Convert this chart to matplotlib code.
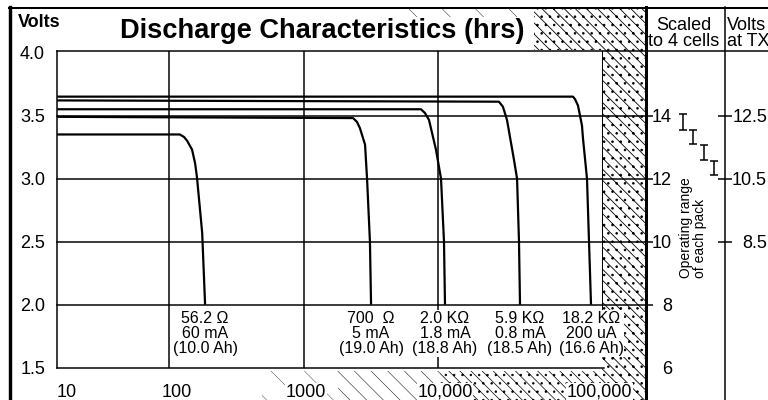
import matplotlib
matplotlib.use("Agg")
import matplotlib.pyplot as plt
from matplotlib.patches import Rectangle
from matplotlib.transforms import blended_transform_factory

plt.rcParams['font.family'] = ['Liberation Sans', 'DejaVu Sans']
plt.rcParams['hatch.linewidth'] = 0.7

# ---- discharge curves: hours (log axis) vs. cell voltage ----
hours_562 = [14.7, 120, 129, 136, 148, 156, 161, 176, 185]
volts_562 = [3.35, 3.35, 3.33, 3.30, 3.23, 3.12, 3.01, 2.57, 2.0]

hours_700 = [14.7, 2330, 2490, 2620, 2860, 2960, 3110, 3170]
volts_700 = [3.49, 3.48, 3.45, 3.40, 3.27, 3.0, 2.5, 2.0]

hours_2k0 = [14.7, 7450, 7980, 8550, 9630, 10500, 11050, 11240]
volts_2k0 = [3.55, 3.55, 3.52, 3.465, 3.23, 3.0, 2.5, 2.0]

hours_5k9 = [14.7, 28300, 30300, 32500, 36600, 38600, 39900, 40600]
volts_5k9 = [3.62, 3.61, 3.57, 3.465, 3.15, 3.0, 2.5, 2.0]

hours_18k2 = [14.7, 100500, 104100, 109500, 113400, 117300, 119300, 127800, 132300, 136900]
volts_18k2 = [3.65, 3.65, 3.63, 3.58, 3.50, 3.42, 3.32, 3.0, 2.5, 2.0]

loads = ["56.2 Ω", "700  Ω", "2.0 KΩ", "5.9 KΩ", "18.2 KΩ"]
currents = ["60 mA", "5 mA", "1.8 mA", "0.8 mA", "200 uA"]
capacity_ah = [10.0, 19.0, 18.8, 18.5, 16.6]

# ---- axes ranges and tick labels ----
hours_range = (14.66, 3.45e5)
volts_range = (1.5, 4.016)
volt_ticks = [1.5, 2.0, 2.5, 3.0, 3.5, 4.0]
volt_grid = [2.0, 2.5, 3.0, 3.5]
hour_grid = [100, 1000, 10000]
hour_labels = ["10", "100", "1000", "10,000", "100,000"]
hour_label_pos = [0.017, 0.204, 0.4235, 0.660, 0.922]   # axes fraction

# ---- 4-cell pack scale and transmitter voltage ----
cells = 4
pack_ticks = [6, 8, 10, 12, 14]
tx_ticks = [8.5, 10.5, 12.5]
tx_offset = 1.5                 # pack volts minus TX volts
range_low = [13.55, 13.10, 12.60, 12.10]
range_high = [14.05, 13.55, 13.05, 12.55]

W, H = 768, 400
fig = plt.figure(figsize=(W / 100, H / 100), dpi=100, facecolor='white')

# full-canvas layer for frame, shading and header text (pixel units)
bg = fig.add_axes([0, 0, 1, 1])
bg.set_xlim(0, W)
bg.set_ylim(H, 0)
bg.axis('off')
bg.set_zorder(0)


def shade(x0, y0, x1, y1, pattern, hlw=0.7):
    p = Rectangle((x0, y0), x1 - x0, y1 - y0, facecolor='white',
                  edgecolor='black', linewidth=0, hatch=pattern, zorder=0)
    if hasattr(p, 'set_hatch_linewidth'):
        p.set_hatch_linewidth(hlw)
    bg.add_patch(p)


# dithered shading: header, right strip and below the hour axis
shade(384, 8.5, 534, 17, '\\', 0.3)
shade(534, 8.5, 645, 50, '\\\\\\..', 0.6)
shade(602, 50, 645, 400, '\\\\\\..', 0.6)
shade(262, 371, 338, 400, '\\', 0.25)
shade(338, 371, 440, 400, '\\\\', 0.35)
shade(440, 371, 602, 400, '\\\\\\..', 0.5)

# frame lines
px = 0.72  # points per pixel
bg.plot([8.5, W], [7.5, 7.5], color='black', lw=2 * px)
bg.plot([10, 10], [7, H], color='black', lw=3.4 * px)
bg.plot([645.5, 645.5], [7, H], color='black', lw=3 * px)
bg.plot([725, 725], [7, H], color='black', lw=1.5 * px)
bg.plot([57, W], [50.5, 50.5], color='black', lw=1.5 * px)
bg.plot([57, 604], [367.7, 367.7], color='black', lw=1.5 * px)
bg.plot([602, 602], [50.5, 310], color='black', lw=1 * px)

# header text
bg.text(18, 27, "Volts", fontsize=13, fontweight='bold', va='baseline', ha='left')
bg.text(120, 38.5, "Discharge Characteristics (hrs)", fontsize=19.6,
        fontweight='bold', va='baseline', ha='left')
bg.text(684, 29.5, "Scaled", fontsize=13, va='baseline', ha='center')
bg.text(684, 46, "to 4 cells", fontsize=13, va='baseline', ha='center')
bg.text(727, 29.5, "Volts", fontsize=13, va='baseline', ha='left')
bg.text(727, 46, "at TX", fontsize=13, va='baseline', ha='left')

# ---- main discharge chart ----
ax = fig.add_axes([57 / W, 1 - 367.7 / H, 588 / W, 317.2 / H])
ax.set_zorder(1)
ax.set_facecolor('none')
ax.set_xscale('log')
ax.set_xlim(*hours_range)
ax.set_ylim(*volts_range)
for s in ['top', 'right', 'bottom']:
    ax.spines[s].set_visible(False)
ax.spines['left'].set_linewidth(1.5 * px)

ax.set_yticks(volt_ticks)
ax.set_yticklabels([f"{v:.1f}" for v in volt_ticks], fontsize=13)
ax.tick_params(axis='y', length=0, pad=8.6)
ax.set_xticks([])
ax.minorticks_off()

for v in volt_grid:
    ax.axhline(v, xmin=0, xmax=(647 - 57) / 588, color='black',
               lw=1.5 * px, zorder=1, clip_on=False)
for h in hour_grid:
    ax.axvline(h, color='black', lw=1.5 * px, zorder=1)

curves = [(hours_562, volts_562), (hours_700, volts_700), (hours_2k0, volts_2k0),
          (hours_5k9, volts_5k9), (hours_18k2, volts_18k2)]
for (hrs, vts), load, cur, ah in zip(curves, loads, currents, capacity_ah):
    ax.plot(hrs, vts, color='black', lw=1.6, solid_capstyle='butt', zorder=3)
    ax.text(hrs[-1], 1.95, f"{load}\n{cur}\n({ah:.1f} Ah)", ha='center', va='top',
            fontsize=11.5, linespacing=1.0, zorder=4,
            bbox=dict(facecolor='white', edgecolor='none', pad=0.5))

for lab, pos in zip(hour_labels, hour_label_pos):
    ax.text(pos, -0.0908, lab, transform=ax.transAxes, ha='center', va='baseline',
            fontsize=13, zorder=4,
            bbox=dict(facecolor='white', edgecolor='none', pad=0.5))

# ---- pack-voltage panel ----
rp = fig.add_axes([647 / W, 1 - 367.7 / H, 78 / W, 317.2 / H])
rp.set_zorder(2)
rp.set_facecolor('none')
rp.set_ylim(volts_range[0] * cells, volts_range[1] * cells)
rp.set_xlim(-3.484, 4.065)
for s in rp.spines.values():
    s.set_visible(False)
rp.set_xticks([])
rp.set_yticks(pack_ticks)
rp.set_yticklabels([])
rp.tick_params(axis='y', direction='in', length=4.3, width=1.5 * px)
rp.yaxis.get_major_ticks()[0].tick1line.set_visible(False)
tr = blended_transform_factory(rp.transAxes, rp.transData)
for t in pack_ticks:
    rp.text(0.3205, t, f"{t}", transform=tr, ha='right', va='center_baseline', fontsize=13)

idx = list(range(len(range_low)))
mids = [(lo + hi) / 2 for lo, hi in zip(range_low, range_high)]
errs = [[m - lo for m, lo in zip(mids, range_low)], [hi - m for m, hi in zip(mids, range_high)]]
rp.errorbar(idx, mids, yerr=errs, fmt='none', ecolor='black', elinewidth=1.1,
            capsize=2.6, capthick=1.1)
rp.text(0.596, 0.283, "Operating range\nof each pack", transform=rp.transAxes,
        rotation=90, ha='center', va='bottom', fontsize=10, linespacing=1.0,
        multialignment='left')

# ---- transmitter-voltage panel ----
tx = fig.add_axes([725 / W, 1 - 367.7 / H, 43 / W, 317.2 / H])
tx.set_zorder(2)
tx.set_facecolor('none')
tx.set_ylim(volts_range[0] * cells - tx_offset, volts_range[1] * cells - tx_offset)
for s in tx.spines.values():
    s.set_visible(False)
tx.set_xticks([])
tx.set_yticks(tx_ticks)
tx.set_yticklabels([])
tx.tick_params(axis='y', direction='inout', length=9.4, width=1.5 * px)
tr2 = blended_transform_factory(tx.transAxes, tx.transData)
for t in tx_ticks:
    tx.text(0.977, t, f"{t}", transform=tr2, ha='right', va='center_baseline', fontsize=13)

fig.savefig("out.png", dpi=100, facecolor='white')
